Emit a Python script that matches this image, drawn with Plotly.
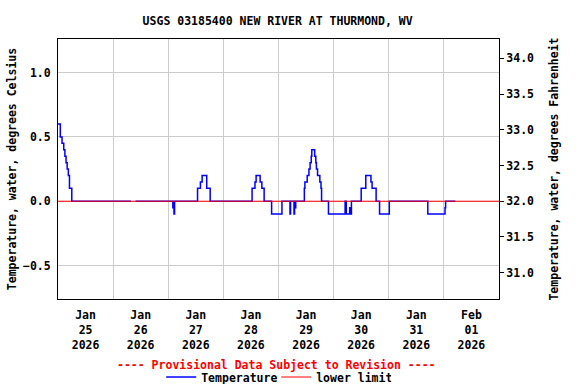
import plotly.graph_objects as go

# ---- data ----
temp_times = [
    "2026-01-25 00:00", "2026-01-25 01:00", "2026-01-25 01:45", "2026-01-25 02:30",
    "2026-01-25 03:00", "2026-01-25 03:30", "2026-01-25 04:00", "2026-01-25 04:30",
    "2026-01-25 05:00", "2026-01-25 06:00", "2026-01-26 07:45", "2026-01-26 08:00",
    "2026-01-26 09:45", "2026-01-27 02:00", "2026-01-27 02:15", "2026-01-27 02:30",
    "2026-01-27 02:45", "2026-01-27 12:45", "2026-01-27 14:00", "2026-01-27 14:45",
    "2026-01-27 16:45", "2026-01-27 18:15", "2026-01-28 12:30", "2026-01-28 13:45",
    "2026-01-28 14:15", "2026-01-28 16:00", "2026-01-28 16:45", "2026-01-28 17:45",
    "2026-01-28 21:00", "2026-01-29 01:30", "2026-01-29 05:00", "2026-01-29 05:15",
    "2026-01-29 06:45", "2026-01-29 07:00", "2026-01-29 07:15", "2026-01-29 07:30",
    "2026-01-29 11:15", "2026-01-29 11:30", "2026-01-29 12:30", "2026-01-29 13:15",
    "2026-01-29 13:45", "2026-01-29 14:15", "2026-01-29 14:30", "2026-01-29 15:45",
    "2026-01-29 16:15", "2026-01-29 16:30", "2026-01-29 17:00", "2026-01-29 18:00",
    "2026-01-29 18:30", "2026-01-29 18:45", "2026-01-29 21:45", "2026-01-30 05:00",
    "2026-01-30 05:30", "2026-01-30 07:00", "2026-01-30 07:15", "2026-01-30 07:45",
    "2026-01-30 12:00", "2026-01-30 14:00", "2026-01-30 16:15", "2026-01-30 16:45",
    "2026-01-30 18:30", "2026-01-30 20:00", "2026-01-31 00:15", "2026-01-31 17:00",
    "2026-02-01 00:30", "2026-02-01 00:45", "2026-02-01 05:00",
]
temp_values = [
    0.6, 0.5, 0.45, 0.4,
    0.35, 0.3, 0.25, 0.2,
    0.1, 0.0, 0.0, None,
    0.0, -0.05, 0.0, -0.1,
    0.0, 0.1, 0.15, 0.2,
    0.1, 0.0, 0.1, 0.15,
    0.2, 0.15, 0.1, 0.0,
    -0.1, 0.0, -0.1, 0.0,
    -0.1, 0.0, -0.05, 0.0,
    0.1, 0.15, 0.2, 0.25,
    0.3, 0.35, 0.4, 0.35,
    0.3, 0.25, 0.2, 0.15,
    0.1, 0.0, -0.1, 0.0,
    -0.1, -0.05, -0.1, 0.0,
    0.1, 0.2, 0.15, 0.1,
    0.0, -0.1, 0.0, -0.1,
    -0.05, 0.0, 0.0,
]
limit_times = ["2026-01-25 00:00", "2026-02-02 00:00"]
limit_values = [0.0, 0.0]

x_range = ["2026-01-25 00:00", "2026-02-02 00:00"]
c_range = [-0.760, 1.261]
c_ticks = [-0.5, 0.0, 0.5, 1.0]
f_ticks = [31.0, 31.5, 32.0, 32.5, 33.0, 33.5, 34.0]

title_text = "USGS 03185400 NEW RIVER AT THURMOND, WV"
left_title = "Temperature, water, degrees Celsius"
right_title = "Temperature, water, degrees Fahrenheit"
provisional = "---- Provisional Data Subject to Revision ----"

FONT = "DejaVu Sans Mono"
FS = 11.5

fig = go.Figure()
fig.add_trace(go.Scatter(
    x=temp_times, y=temp_values, mode="lines", name="Temperature",
    line=dict(color="#0000ff", width=1.5, shape="hv"), connectgaps=False,
))
fig.add_trace(go.Scatter(
    x=limit_times, y=limit_values, mode="lines", name="lower limit",
    line=dict(color="#ff0000", width=1),
))
# Fahrenheit companion axis (invisible trace so axis renders)
fig.add_trace(go.Scatter(
    x=limit_times, y=[v * 1.8 + 32 for v in limit_values], yaxis="y2",
    mode="lines", line=dict(width=0, color="rgba(0,0,0,0)"),
    showlegend=False, hoverinfo="skip",
))

fig.update_layout(
    width=576, height=384,
    margin=dict(l=58, r=77, t=39, b=85, autoexpand=False),
    paper_bgcolor="white", plot_bgcolor="white",
    font=dict(family=FONT, size=FS, color="black", weight="bold"),
    title=dict(text=title_text, x=0.482, xanchor="center", y=0.945, yanchor="middle",
               font=dict(family=FONT, size=FS, weight="bold")),
    showlegend=True,
    legend=dict(orientation="h", x=0.234, xanchor="left", y=-0.30, yanchor="middle",
                font=dict(family=FONT, size=FS, weight="bold"),
                itemwidth=30, entrywidth=70, entrywidthmode="pixels",
                tracegroupgap=0, bgcolor="rgba(0,0,0,0)"),
    xaxis=dict(
        type="date", range=x_range, dtick=86400000, tick0="2026-01-25",
        ticklabelmode="period", tickformat="%b<br>%d<br>%Y",
        showgrid=True, gridcolor="#cccccc", gridwidth=1,
        showline=True, linecolor="black", linewidth=1, mirror=True,
        ticks="", zeroline=False, automargin=False, ticklabelstandoff=5,
    ),
    yaxis=dict(
        range=c_range, tickvals=c_ticks, tickformat=".1f",
        showgrid=True, gridcolor="#cccccc", gridwidth=1,
        showline=True, linecolor="black", linewidth=1, mirror=True,
        ticks="", ticklabelstandoff=4, zeroline=False, automargin=False,
        title=dict(text=left_title, standoff=3, font=dict(family=FONT, size=FS, weight="bold")),
    ),
    yaxis2=dict(
        overlaying="y", side="right",
        range=[c_range[0] * 1.8 + 32, c_range[1] * 1.8 + 32],
        tickvals=f_ticks, tickformat=".1f",
        showgrid=False, zeroline=False, automargin=False,
        ticks="outside", ticklen=4, tickcolor="black",
        showline=True, linecolor="black", linewidth=1,
        title=dict(text=right_title, standoff=16, font=dict(family=FONT, size=FS, weight="bold")),
    ),
    annotations=[dict(
        text=provisional, xref="paper", yref="paper", x=0.495, y=-0.254,
        xanchor="center", yanchor="middle", showarrow=False,
        font=dict(family=FONT, size=FS, color="#ff0000", weight="bold"),
    )],
)

fig.write_html("out.html", config={"displayModeBar": False},
               post_script="document.body.style.margin='0';")
